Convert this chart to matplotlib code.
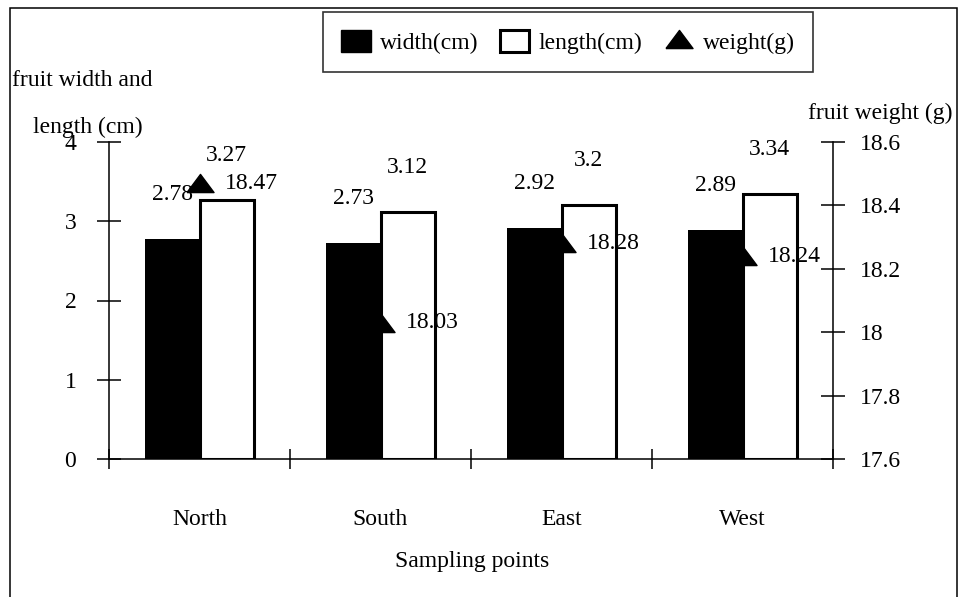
import matplotlib.pyplot as plt
import numpy as np
from matplotlib.lines import Line2D
from matplotlib.patches import Patch, Rectangle

# values
sites = ["North", "South", "East", "West"]
width_cm = [2.78, 2.73, 2.92, 2.89]
length_cm = [3.27, 3.12, 3.2, 3.34]
weight_g = [18.47, 18.03, 18.28, 18.24]

left_ticks = [0, 1, 2, 3, 4]
right_ticks = [17.6, 17.8, 18.0, 18.2, 18.4, 18.6]
right_tick_labels = ["17.6", "17.8", "18", "18.2", "18.4", "18.6"]

plt.rcParams["font.family"] = ["Liberation Serif", "DejaVu Serif"]
plt.rcParams["font.size"] = 17

# flat triangle like the spreadsheet marker
triangle = [(-1, -0.67), (1, -0.67), (0, 0.67), (-1, -0.67)]

W, H = 960, 597
fig = plt.figure(figsize=(W / 100, H / 100), dpi=100)
ax = fig.add_axes([109 / W, 1 - 459 / H, (833 - 109) / W, (459 - 142) / H])
ax2 = ax.twinx()

x = np.arange(len(sites))
bw = 0.3

ax.bar(x - bw / 2, width_cm, bw, color="black", zorder=2)
ax.bar(
    x + bw / 2,
    length_cm,
    bw,
    color="white",
    edgecolor="black",
    linewidth=2.2,
    zorder=2,
)

for xi, w, l in zip(x, width_cm, length_cm):
    ax.annotate(
        f"{w:g}",
        (xi - bw / 2, w),
        xytext=(0, 32),
        textcoords="offset points",
        ha="center",
        va="center",
    )
    ax.annotate(
        f"{l:g}",
        (xi + bw / 2, l),
        xytext=(0, 32),
        textcoords="offset points",
        ha="center",
        va="center",
    )

ax2.plot(
    x,
    weight_g,
    linestyle="none",
    marker=triangle,
    markersize=19.5,
    color="black",
    zorder=3,
)

for xi, g in zip(x, weight_g):
    ax2.annotate(
        f"{g:g}",
        (xi, g),
        xytext=(18.5, 0),
        textcoords="offset points",
        ha="left",
        va="center",
    )

ax.set_xlim(-0.5, len(sites) - 0.5)
ax.set_ylim(0, 4)
ax2.set_ylim(17.6, 18.6)

# category boundaries get the ticks, names sit in between
ax.set_xticks(np.arange(len(sites) + 1) - 0.5)
ax.set_xticklabels([])
ax.set_xticks(x, minor=True)
ax.set_xticklabels(sites, minor=True)
ax.tick_params(axis="x", which="major", direction="inout", length=14, width=1.1)
ax.tick_params(axis="x", which="minor", length=0, pad=36)

ax.set_yticks(left_ticks)
ax.tick_params(axis="y", direction="inout", length=17, width=1.1, pad=15)

ax2.set_yticks(right_ticks)
ax2.set_yticklabels(right_tick_labels)
ax2.tick_params(axis="y", direction="inout", length=17, width=1.1, pad=11)

for side in ["top", "right"]:
    ax.spines[side].set_visible(False)
for side in ["top", "left", "bottom"]:
    ax2.spines[side].set_visible(False)
for sp in [ax.spines["left"], ax.spines["bottom"], ax2.spines["right"]]:
    sp.set_linewidth(1.1)

fig.text(12 / W, 1 - 80 / H, "fruit width and", ha="left", va="center")
fig.text(33 / W, 1 - 127 / H, "length (cm)", ha="left", va="center")
fig.text(953 / W, 1 - 113 / H, "fruit weight (g)", ha="right", va="center")
fig.text(472 / W, 1 - 562 / H, "Sampling points", ha="center", va="center")

handles = [
    Patch(facecolor="black", edgecolor="black"),
    Patch(facecolor="white", edgecolor="black", linewidth=2.2),
    Line2D([], [], linestyle="none", marker=triangle, markersize=19.5, color="black"),
]
leg = fig.legend(
    handles,
    ["width(cm)", "length(cm)", "weight(g)"],
    loc="center",
    bbox_to_anchor=(568 / W, 1 - 42 / H),
    ncol=3,
    frameon=True,
    fancybox=False,
    handlelength=1.25,
    handleheight=1.05,
    handletextpad=0.4,
    columnspacing=0.9,
    borderpad=0.75,
    borderaxespad=0,
)
leg.get_frame().set_edgecolor("black")
leg.get_frame().set_linewidth(1.2)

# page frame, open at the bottom like the scan
fig.add_artist(
    Rectangle(
        (10 / W, -0.05),
        (957 - 10) / W,
        1.05 - 8 / H,
        transform=fig.transFigure,
        fill=False,
        linewidth=1.1,
        edgecolor="black",
        clip_on=False,
    )
)

fig.savefig("out.png", dpi=100)
